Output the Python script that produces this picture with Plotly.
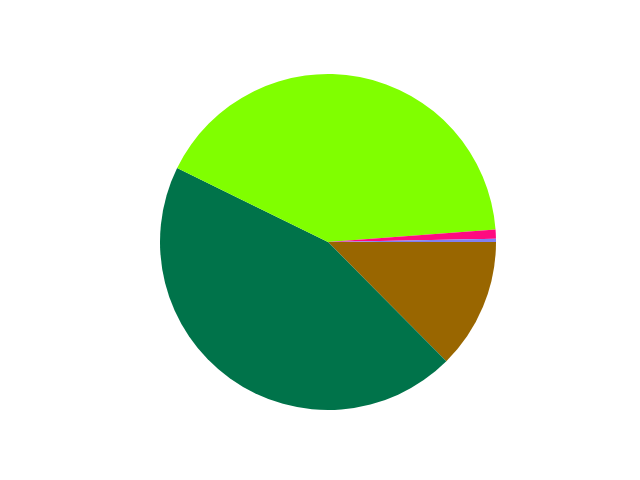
import plotly.graph_objects as go

labels = ["A", "B", "C", "D", "E"]
values = [12.56, 44.69, 41.56, 0.89, 0.30]
colors = ["#996600", "#00734a", "#80ff00", "#ff0a80", "#8080f0"]

fig = go.Figure(go.Pie(
    labels=labels,
    values=values,
    sort=False,
    direction="clockwise",
    rotation=90,
    marker=dict(colors=colors, line=dict(width=0)),
    textinfo="none",
    hoverinfo="label+percent",
))
fig.update_layout(
    width=640, height=480,
    margin=dict(l=88, r=72, t=74, b=70),
    showlegend=False,
    paper_bgcolor="white",
    plot_bgcolor="white",
)
fig.write_html("out.html")
